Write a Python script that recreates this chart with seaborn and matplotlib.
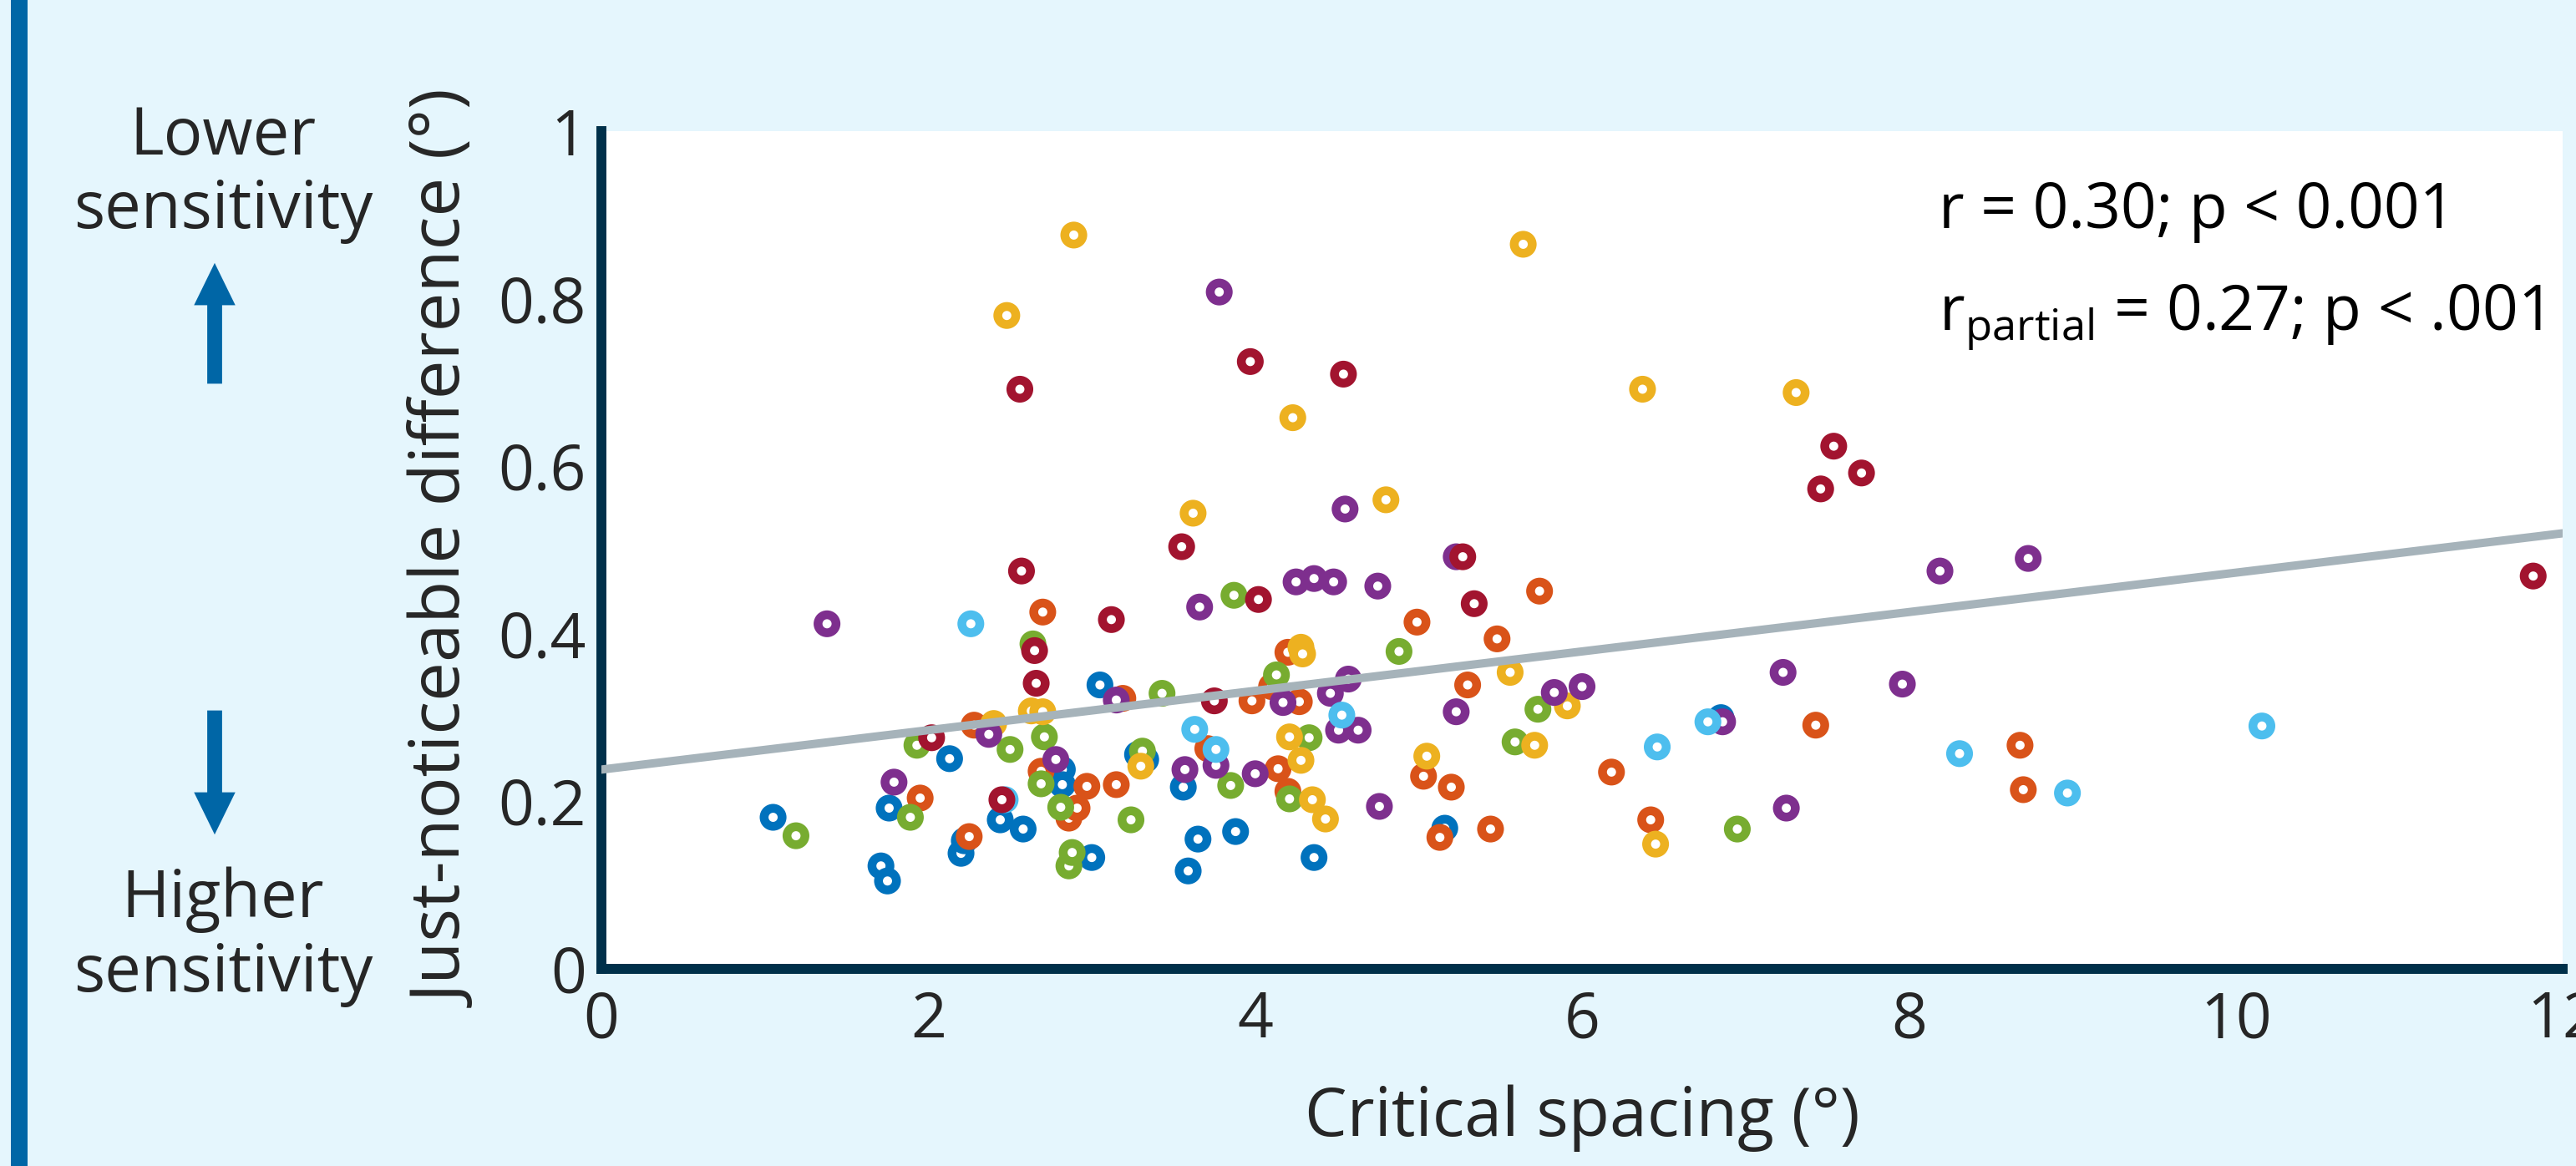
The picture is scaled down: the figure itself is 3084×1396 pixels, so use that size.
import numpy as np
import pandas as pd
import matplotlib
import matplotlib.pyplot as plt
from matplotlib.patches import Rectangle, FancyArrow
import seaborn as sns

matplotlib.use('Agg')

# ---- data (critical spacing, JND) per group ----
blue_x = [1.05, 1.71, 1.75, 1.76, 2.13, 2.20, 2.22, 2.44, 2.58, 2.82, 2.82, 3.00, 3.05,
          3.28, 3.33, 3.56, 3.59, 3.65, 3.88, 4.36, 5.16, 6.85]
blue_y = [0.181, 0.123, 0.105, 0.192, 0.251, 0.138, 0.153, 0.178, 0.167, 0.238, 0.220, 0.133, 0.339,
          0.256, 0.250, 0.217, 0.117, 0.155, 0.164, 0.133, 0.168, 0.300]

orange_x = [1.95, 2.25, 2.28, 2.69, 2.70, 2.86, 2.91, 2.97, 3.15, 3.19, 3.71, 3.98, 4.10, 4.14, 4.20,
            4.20, 4.27, 4.99, 5.03, 5.13, 5.20, 5.30, 5.44, 5.48, 5.74, 6.18, 6.42, 7.43, 8.68, 8.70]
orange_y = [0.204, 0.158, 0.291, 0.236, 0.426, 0.180, 0.192, 0.218, 0.220, 0.323, 0.263, 0.320, 0.337,
            0.239, 0.378, 0.212, 0.319, 0.414, 0.230, 0.157, 0.217, 0.339, 0.167, 0.394, 0.451, 0.235,
            0.178, 0.291, 0.267, 0.214]

green_x = [1.19, 1.89, 1.93, 2.50, 2.64, 2.69, 2.71, 2.81, 2.86, 2.88, 3.24, 3.31, 3.43, 3.85, 3.87,
           4.13, 4.21, 4.33, 4.88, 5.59, 5.73, 6.95]
green_y = [0.159, 0.181, 0.267, 0.262, 0.388, 0.221, 0.277, 0.193, 0.123, 0.139, 0.178, 0.260, 0.329,
           0.219, 0.446, 0.351, 0.203, 0.276, 0.379, 0.271, 0.310, 0.167]

yellow_x = [2.40, 2.48, 2.63, 2.70, 2.89, 3.30, 3.62, 4.21, 4.23, 4.28, 4.29, 4.28, 4.35, 4.43, 4.80,
            5.05, 5.56, 5.64, 5.71, 5.91, 6.37, 6.45, 7.31]
yellow_y = [0.293, 0.780, 0.308, 0.307, 0.876, 0.242, 0.544, 0.277, 0.658, 0.384, 0.376, 0.249, 0.202,
            0.179, 0.560, 0.254, 0.354, 0.865, 0.267, 0.314, 0.692, 0.149, 0.688]

purple_x = [1.38, 1.79, 2.37, 2.78, 3.15, 3.57, 3.66, 3.76, 3.78, 4.00, 4.17, 4.25, 4.36, 4.48, 4.46,
            4.51, 4.55, 4.57, 4.63, 4.75, 4.76, 5.23, 5.23, 5.83, 6.00, 6.86, 7.23, 7.25, 7.96, 8.19, 8.73]
purple_y = [0.412, 0.223, 0.280, 0.250, 0.321, 0.238, 0.432, 0.243, 0.808, 0.233, 0.318, 0.462, 0.466,
            0.462, 0.329, 0.285, 0.549, 0.346, 0.285, 0.457, 0.194, 0.492, 0.307, 0.330, 0.337, 0.295,
            0.354, 0.192, 0.340, 0.475, 0.490]

lightblue_x = [2.26, 2.47, 3.63, 3.76, 4.53, 6.46, 6.77, 8.31, 8.97, 10.16]
lightblue_y = [0.412, 0.202, 0.286, 0.262, 0.303, 0.265, 0.295, 0.257, 0.210, 0.290]

darkred_x = [2.02, 2.45, 2.56, 2.57, 2.65, 2.66, 3.12, 3.55, 3.75, 3.97, 4.02, 4.54, 5.27, 5.34,
             7.46, 7.54, 7.71, 11.82]
darkred_y = [0.276, 0.202, 0.692, 0.475, 0.380, 0.341, 0.417, 0.504, 0.320, 0.725, 0.441, 0.710, 0.492,
             0.436, 0.573, 0.624, 0.592, 0.469]

group_colors = {
    'blue': '#0072BD',
    'orange': '#D95319',
    'green': '#77AC30',
    'yellow': '#EDB120',
    'purple': '#7E2F8E',
    'lightblue': '#4DBEEE',
    'darkred': '#A2142F',
}

# regression line
fit_intercept = 0.238
fit_slope = 0.0235

x_ticks = [0, 2, 4, 6, 8, 10, 12]
y_ticks = [0, 0.2, 0.4, 0.6, 0.8, 1.0]
y_tick_labels = ['0', '0.2', '0.4', '0.6', '0.8', '1']

stats_line1 = 'r = 0.30; p < 0.001'
stats_line2 = r'r$_{\mathrm{partial}}$ = 0.27; p < .001'

# ---- build table ----
groups = [('blue', blue_x, blue_y), ('orange', orange_x, orange_y), ('green', green_x, green_y),
          ('yellow', yellow_x, yellow_y), ('purple', purple_x, purple_y),
          ('lightblue', lightblue_x, lightblue_y), ('darkred', darkred_x, darkred_y)]
df = pd.concat([pd.DataFrame({'spacing': gx, 'jnd': gy, 'group': name}) for name, gx, gy in groups],
               ignore_index=True)

sns.set_theme(style='white')
plt.rcParams['font.family'] = ['Open Sans', 'DejaVu Sans']
plt.rcParams['mathtext.fontset'] = 'custom'
plt.rcParams['mathtext.rm'] = 'Open Sans'
plt.rcParams['mathtext.it'] = 'Open Sans'

BG = '#E5F6FD'
INK = '#262626'
NAVY = '#00304A'
ARROW = '#0066A6'

fig = plt.figure(figsize=(15.42, 6.98), dpi=200, facecolor=BG)
ax = fig.add_axes([0.2335, 0.169, 0.7613, 0.7185])
ax.set_facecolor('white')

sns.scatterplot(data=df, x='spacing', y='jnd', hue='group', palette=group_colors,
                s=60, linewidth=3.8, legend=False, ax=ax, zorder=3)
rings = ax.collections[-1]
rings.set_edgecolors(rings.get_facecolors())
rings.set_facecolors('white')

fit_x = np.array([x_ticks[0], x_ticks[-1]], dtype=float)
sns.lineplot(x=fit_x, y=fit_intercept + fit_slope * fit_x, color='#A6B3BA', linewidth=3.6,
             ax=ax, zorder=4)

ax.set_xlim(0, 12)
ax.set_ylim(0, 1)
ax.set_xticks(x_ticks)
ax.set_yticks(y_ticks)
ax.set_yticklabels(y_tick_labels)
for side in ['top', 'right']:
    ax.spines[side].set_visible(False)
for side in ['left', 'bottom']:
    ax.spines[side].set_color(NAVY)
    ax.spines[side].set_linewidth(4.3)
ax.tick_params(direction='in', length=12.5, width=4.3, color=INK, labelcolor=INK, labelsize=27)
ax.tick_params(axis='x', pad=9)
ax.tick_params(axis='y', pad=6.5)

ax.set_xlabel('Critical spacing (°)', fontsize=29, color=INK, labelpad=14)
ax.set_ylabel('Just-noticeable difference (°)', fontsize=30, color=INK, labelpad=7)

# stats
fig.text(0.7526, 0.8047, stats_line1, fontsize=27, color='black', va='baseline')
fig.text(0.7526, 0.717, stats_line2, fontsize=27, color='black', va='baseline')

# side labels and arrows
fig.text(0.0866, 0.8675, 'Lower', fontsize=28, color=INK, ha='center', va='baseline')
fig.text(0.0866, 0.8044, 'sensitivity', fontsize=28, color=INK, ha='center', va='baseline')
fig.text(0.0866, 0.2135, 'Higher', fontsize=28, color=INK, ha='center', va='baseline')
fig.text(0.0866, 0.1497, 'sensitivity', fontsize=28, color=INK, ha='center', va='baseline')

fig.add_artist(FancyArrow(1.285, 4.69, 0, 0.70, width=0.075, head_width=0.225, head_length=0.23,
                          length_includes_head=True, color=ARROW, transform=fig.dpi_scale_trans))
fig.add_artist(FancyArrow(1.285, 2.72, 0, -0.72, width=0.075, head_width=0.225, head_length=0.23,
                          length_includes_head=True, color=ARROW, transform=fig.dpi_scale_trans))

# left accent bar
fig.add_artist(Rectangle((13 / 3084, 0), 20 / 3084, 1, transform=fig.transFigure,
                         color=ARROW, lw=0))

fig.savefig('out.png', dpi=200, facecolor=BG)
